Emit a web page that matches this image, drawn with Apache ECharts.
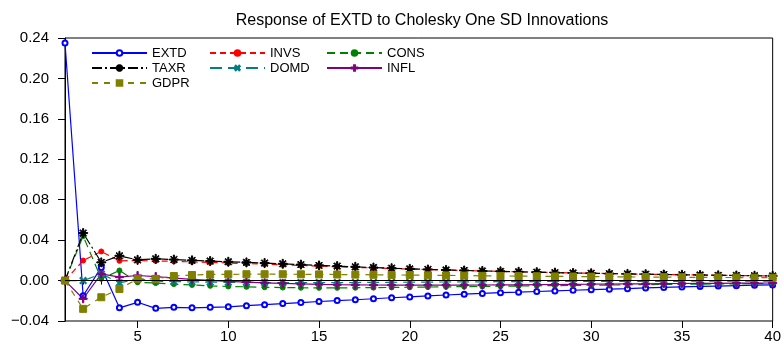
<!DOCTYPE html>
<html>
<head>
<meta charset="utf-8">
<script src="https://cdn.jsdelivr.net/npm/echarts@6/dist/echarts.min.js"></script>
<style>
  html, body { margin: 0; padding: 0; background: #fff; }
  #main { width: 784px; height: 348px; }
</style>
</head>
<body>
<div id="main"></div>
<script>
// periods 1..40
var periods = [];
for (var i = 1; i <= 40; i++) periods.push(String(i));

var extd = [0.235, -0.015, 0.013, -0.027, -0.0215, -0.0275, -0.0265, -0.027, -0.0265, -0.026,
  -0.0248, -0.0238, -0.0228, -0.0218, -0.0207, -0.0198, -0.019, -0.018, -0.017, -0.0162,
  -0.0152, -0.0143, -0.0135, -0.0127, -0.012, -0.0115, -0.0108, -0.0102, -0.0096, -0.009,
  -0.0085, -0.008, -0.0073, -0.0068, -0.0063, -0.0058, -0.0054, -0.005, -0.0046, -0.0043];
var invs = [0, 0.0198, 0.0288, 0.0195, 0.0198, 0.0195, 0.019, 0.0185, 0.018, 0.0174,
  0.0168, 0.0162, 0.0156, 0.015, 0.0143, 0.0137, 0.0131, 0.0125, 0.0119, 0.0114,
  0.0109, 0.0104, 0.0099, 0.0095, 0.0091, 0.0087, 0.0083, 0.0079, 0.0076, 0.0072,
  0.0069, 0.0066, 0.0063, 0.006, 0.0058, 0.0055, 0.0053, 0.005, 0.0048, 0.0046];
var cons = [0, 0.044, 0.0017, 0.01, -0.0017, -0.0025, -0.0035, -0.0043, -0.0052, -0.0058,
  -0.0062, -0.0066, -0.0069, -0.0071, -0.0072, -0.0072, -0.0071, -0.007, -0.0068, -0.0066,
  -0.0064, -0.0062, -0.006, -0.0058, -0.0056, -0.0054, -0.0052, -0.005, -0.0048, -0.0046,
  -0.0044, -0.0042, -0.004, -0.0038, -0.0036, -0.0035, -0.0033, -0.0032, -0.003, -0.0029];
var taxr = [0, 0.047, 0.018, 0.0245, 0.0205, 0.0215, 0.0208, 0.02, 0.0193, 0.0186,
  0.018, 0.0173, 0.0166, 0.0158, 0.015, 0.0143, 0.0136, 0.0129, 0.0122, 0.0116,
  0.011, 0.0105, 0.01, 0.0095, 0.0091, 0.0087, 0.0083, 0.0079, 0.0075, 0.0072,
  0.0069, 0.0066, 0.0063, 0.006, 0.0057, 0.0055, 0.0052, 0.005, 0.0048, 0.0046];
var domd = [0, 0, 0.0066, -0.0023, 0.0015, -0.0005, -0.001, -0.0013, -0.0015, -0.0017,
  -0.0018, -0.0019, -0.002, -0.002, -0.002, -0.002, -0.0019, -0.0018, -0.0017, -0.0016,
  -0.0015, -0.0014, -0.0013, -0.0012, -0.0011, -0.001, -0.001, -0.0009, -0.0009, -0.0008,
  -0.0008, -0.0008, -0.0007, -0.0007, -0.0007, -0.0006, -0.0006, -0.0006, -0.0006, -0.0005];
var infl = [0, -0.018, 0.0066, 0.0035, 0.005, 0.004, 0.0025, 0.0012, 0.0002, -0.0008,
  -0.0015, -0.0022, -0.0028, -0.0033, -0.0037, -0.004, -0.0042, -0.0044, -0.0045, -0.0046,
  -0.0046, -0.0046, -0.0045, -0.0044, -0.0043, -0.0042, -0.004, -0.0039, -0.0037, -0.0036,
  -0.0034, -0.0033, -0.0032, -0.003, -0.0029, -0.0028, -0.0027, -0.0026, -0.0025, -0.0024];
var gdpr = [0, -0.028, -0.0165, -0.0083, 0.0017, 0.0017, 0.0045, 0.0055, 0.006, 0.0062,
  0.0063, 0.0063, 0.0063, 0.0062, 0.0061, 0.006, 0.0059, 0.0057, 0.0056, 0.0054,
  0.0052, 0.0051, 0.0049, 0.0047, 0.0046, 0.0044, 0.0043, 0.0041, 0.004, 0.0039,
  0.0037, 0.0036, 0.0035, 0.0034, 0.0033, 0.0032, 0.0031, 0.003, 0.0029, 0.0028];

var FONT = '"Liberation Sans", Arial, Helvetica, sans-serif';

var plusPath = 'path://M4.2,0 L5.8,0 L5.8,4.2 L10,4.2 L10,5.8 L5.8,5.8 L5.8,10 L4.2,10 L4.2,5.8 L0,5.8 L0,4.2 L4.2,4.2 Z';
var starPath = 'path://M4.4,0 h1.2 v10 h-1.2 Z M0,4.4 h10 v1.2 h-10 Z M1.2,2 L2,1.2 L8.8,8 L8,8.8 Z M8,1.2 L8.8,2 L2,8.8 L1.2,8 Z';

function line(name, data, color, type, symbol, size, extra) {
  var s = {
    name: name,
    type: 'line',
    data: data,
    symbol: symbol,
    symbolSize: size,
    showSymbol: true,
    animation: false,
    lineStyle: { color: color, width: 1.2, type: type },
    itemStyle: { color: color, borderColor: color, borderWidth: 1 }
  };
  if (extra) for (var k in extra) s[k] = extra[k];
  return s;
}

function legendCol(names, left) {
  return {
    data: names,
    orient: 'vertical', left: left, top: 41,
    itemWidth: 55, itemHeight: 7, itemGap: 1,
    textStyle: { fontFamily: FONT, fontSize: 13, color: '#000', lineHeight: 14 }
  };
}

var chart = echarts.init(document.getElementById('main'));
var option = {
  backgroundColor: '#fff',
  animation: false,
  title: {
    text: 'Response of EXTD to Cholesky One SD Innovations',
    left: 417,
    textAlign: 'center',
    top: 8,
    textStyle: { fontFamily: FONT, fontSize: 16, fontWeight: 'normal', color: '#000' }
  },
  legend: [
    legendCol(['EXTD', 'TAXR', 'GDPR'], 86),
    legendCol(['INVS', 'DOMD'], 204),
    legendCol(['CONS', 'INFL'], 321)
  ],
  grid: {
    left: 65, right: 8, top: 38, bottom: 27,
    show: true, borderColor: '#000', borderWidth: 1, backgroundColor: 'transparent'
  },
  xAxis: [
    {
      type: 'category', data: periods, boundaryGap: false, position: 'bottom',
      axisLine: { lineStyle: { color: '#000', width: 1 } },
      axisTick: { interval: 0, length: 4, lineStyle: { color: '#000' } },
      axisLabel: {
        interval: function (idx, val) { return Number(val) % 5 === 0; },
        margin: 8, fontFamily: FONT, fontSize: 15, color: '#000'
      },
      splitLine: { show: false }
    },
    {
      type: 'category', data: periods, boundaryGap: false, position: 'bottom',
      axisLine: { show: false },
      axisTick: {
        interval: function (idx, val) { return Number(val) % 5 === 0; },
        length: 7, lineStyle: { color: '#000' }
      },
      axisLabel: { show: false },
      splitLine: { show: false }
    }
  ],
  yAxis: {
    type: 'value', min: -0.04, max: 0.24, interval: 0.04,
    axisLine: { show: true, lineStyle: { color: '#000', width: 1 } },
    axisTick: { show: true, length: 7, lineStyle: { color: '#000' } },
    axisLabel: {
      margin: 16, fontFamily: FONT, fontSize: 15, color: '#000',
      formatter: function (v) {
        var s = Math.abs(v).toFixed(2);
        return v < -1e-9 ? '\u2212' + s : s;
      }
    },
    splitLine: { show: false }
  },
  series: [
    line('EXTD', extd, '#0000ff', 'solid', 'emptyCircle', 5, {
      markLine: {
        silent: true, symbol: 'none', label: { show: false },
        lineStyle: { color: '#000', width: 1, type: 'solid' },
        data: [{ yAxis: 0 }]
      }
    }),
    line('INVS', invs, '#ff0000', [6, 4], 'circle', 5),
    line('CONS', cons, '#008000', [8, 5], 'circle', 5),
    line('TAXR', taxr, '#000000', [10, 3, 2, 3], starPath, 9),
    line('DOMD', domd, '#008080', [12, 6], plusPath, 8, { symbolRotate: 45 }),
    line('INFL', infl, '#800080', 'solid', plusPath, 8),
    line('GDPR', gdpr, '#808000', [6, 6], 'rect', 7)
  ]
};
chart.setOption(option);
window.addEventListener('resize', function () { chart.resize(); });
</script>
</body>
</html>
